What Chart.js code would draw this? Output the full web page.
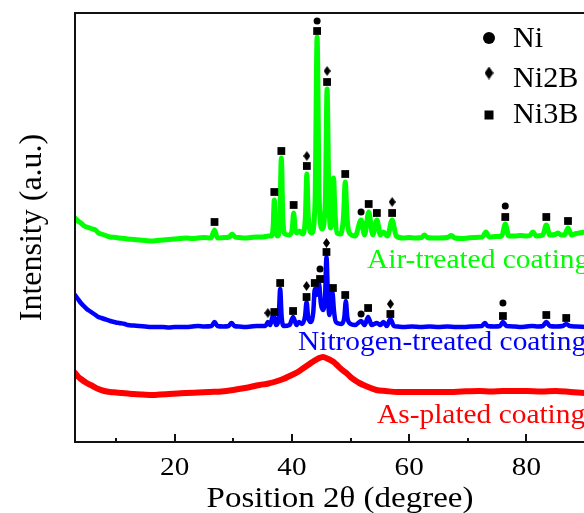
<!DOCTYPE html>
<html>
<head>
<meta charset="utf-8">
<title>XRD patterns</title>
<script src="https://cdn.jsdelivr.net/npm/chart.js@4.4.1/dist/chart.umd.min.js"></script>
<style>
  html, body { margin: 0; padding: 0; background: #fff; overflow: hidden; }
  #wrap { position: relative; width: 600px; height: 513px; }
</style>
</head>
<body>
<div id="wrap"><canvas id="xrd"></canvas></div>
<script>
// ---- axis ----
const xMin = 3, xMax = 90;
const yMin = 0, yMax = 4290;
const majorTicks = [20, 40, 60, 80];
const minorTicks = [10, 30, 50, 70];

// ---- measured patterns, [2θ, intensity] (offset per sample) ----
const airTrace = [
  [3, 2240], [3.5, 2210], [4, 2190], [4.6, 2160], [5, 2150], [5.5, 2140], [6, 2130], [6.5, 2120],
  [7, 2090], [7.5, 2080], [8, 2070], [9, 2050], [10, 2045], [10.5, 2040], [11.5, 2035], [12, 2030],
  [13, 2025], [14, 2020], [15, 2015], [16, 2010], [17, 2015], [18, 2020], [19, 2025], [20, 2030],
  [21, 2035], [22, 2040], [23, 2035], [24, 2040], [25, 2045], [26.2, 2040], [26.8, 2120], [27.3, 2040],
  [28.5, 2045], [29.3, 2050], [29.8, 2080], [30.3, 2050], [31, 2045], [32, 2040], [33, 2045], [34, 2050],
  [35, 2050], [36, 2060], [36.5, 2060], [36.8, 2150], [37, 2420], [37.2, 2150], [37.6, 2060],
  [37.95, 2250], [38.2, 2840], [38.45, 2250], [38.8, 2080], [39.6, 2070], [40.05, 2130], [40.3, 2290],
  [40.55, 2130], [40.8, 2090], [41.3, 2110], [41.8, 2080], [42.3, 2250], [42.55, 2680], [42.8, 2250],
  [43.4, 2090], [43.95, 2400], [44.3, 4050], [44.65, 2450], [45.15, 2130], [45.7, 2400], [46.0, 3530],
  [46.3, 2450], [46.6, 2140], [46.9, 2300], [47.1, 2640], [47.35, 2300], [47.7, 2090], [48.3, 2080],
  [48.8, 2250], [49.1, 2600], [49.4, 2250], [49.8, 2090], [50.8, 2060], [51.8, 2220], [52.4, 2070],
  [53.1, 2300], [53.8, 2070], [54.5, 2220], [55.1, 2070], [55.6, 2100], [56.3, 2060], [57.1, 2220],
  [57.8, 2060], [59, 2040], [60, 2045], [61, 2040], [62.1, 2045], [62.6, 2070], [63.1, 2045],
  [64, 2040], [65, 2040], [66.5, 2045], [67.2, 2065], [67.8, 2040], [69, 2035], [70, 2040], [71, 2045],
  [72.5, 2050], [73.1, 2100], [73.7, 2050], [74.8, 2055], [75.8, 2060], [76.4, 2180], [77, 2060],
  [78, 2060], [79, 2065], [80, 2060], [80.6, 2065], [81.1, 2100], [81.7, 2060], [82.8, 2070],
  [83.4, 2170], [84, 2070], [84.9, 2075], [85.4, 2090], [85.9, 2070], [86.5, 2070], [87.1, 2140],
  [87.7, 2070], [88.5, 2085], [89, 2090], [90, 2100]
];

const nitrogenTrace = [
  [3, 1470], [3.5, 1430], [4, 1390], [4.5, 1360], [5, 1330], [5.5, 1310], [6, 1290], [6.5, 1270],
  [7, 1250], [7.5, 1240], [8, 1230], [9, 1210], [10, 1195], [10.5, 1190], [11.5, 1180], [12, 1170],
  [13, 1165], [14, 1160], [15, 1155], [16, 1150], [17, 1150], [18, 1150], [19, 1145], [20, 1150],
  [21, 1150], [22, 1150], [23, 1155], [24, 1160], [25, 1155], [26.3, 1160], [26.8, 1200], [27.3, 1160],
  [28.3, 1155], [29.2, 1160], [29.7, 1190], [30.2, 1160], [31, 1155], [32, 1150], [33, 1155],
  [34, 1160], [35, 1160], [35.5, 1160], [35.9, 1200], [36.3, 1170], [36.8, 1270], [37.3, 1170],
  [37.75, 1250], [38.0, 1530], [38.25, 1250], [38.6, 1160], [39.6, 1170], [40.2, 1250], [40.8, 1170],
  [41.2, 1200], [41.7, 1180], [42.25, 1260], [42.5, 1400], [42.75, 1260], [43.2, 1200], [43.65, 1300],
  [43.9, 1530], [44.2, 1470], [44.6, 1590], [44.95, 1380], [45.3, 1320], [45.65, 1450], [45.9, 1850],
  [46.15, 1450], [46.4, 1270], [46.9, 1500], [47.2, 1300], [47.5, 1200], [48.5, 1180], [48.95, 1250],
  [49.2, 1410], [49.45, 1250], [49.8, 1190], [50.8, 1170], [51.8, 1210], [52.4, 1170], [53.0, 1250],
  [53.6, 1170], [54.5, 1190], [55.1, 1170], [55.6, 1200], [56.2, 1160], [56.8, 1230], [57.4, 1160],
  [58, 1155], [59, 1150], [60.5, 1155], [62, 1150], [63.5, 1155], [65, 1150], [66.5, 1155], [68, 1150],
  [69.5, 1150], [70.5, 1155], [72.4, 1160], [72.9, 1190], [73.4, 1160], [74.5, 1155], [75.5, 1160],
  [76, 1200], [76.6, 1160], [78, 1155], [79, 1150], [80, 1155], [81, 1160], [82, 1155], [82.8, 1160],
  [83.4, 1200], [84, 1160], [85, 1155], [86.2, 1160], [86.8, 1180], [87.4, 1160], [88.5, 1155],
  [90, 1150]
];

const platedTrace = [
  [3, 690], [3.5, 655], [4, 630], [5, 590], [6, 560], [7, 530], [8, 510], [9, 500], [10, 495],
  [11, 490], [12, 485], [13, 480], [14.5, 475], [16.3, 470], [17.5, 475], [19, 480], [20.5, 485],
  [22, 490], [24, 495], [26, 500], [28, 505], [30, 520], [32, 540], [34.5, 570], [36, 585], [37, 600],
  [38.5, 630], [40, 670], [41, 700], [42, 740], [43, 780], [43.5, 800], [44.5, 835], [45.3, 850],
  [46.2, 830], [47, 805], [47.5, 780], [48.6, 720], [49.3, 690], [50, 650], [50.8, 615], [51.5, 590],
  [52.2, 570], [53, 550], [54.4, 520], [56, 510], [58, 500], [60, 500], [62.9, 500], [65, 500],
  [67, 500], [69, 505], [72, 510], [74, 505], [76, 510], [78, 510], [80, 510], [82.5, 505], [85, 510],
  [87.5, 500], [90, 490]
];

// ---- phase markers, [2θ, height] ----
const niMarks = [
  [44.3, 4210], [51.8, 2300], [76.4, 2360],
  [44.8, 1730], [51.8, 1280], [76.0, 1390]
];
const ni2bMarks = [
  [42.55, 2860], [46.0, 3710], [57.1, 2400],
  [35.9, 1290], [42.5, 1560], [45.9, 1990], [56.8, 1380]
];
const ni3bMarks = [
  [26.8, 2200], [37.0, 2500], [38.2, 2910], [40.3, 2370], [42.55, 2760], [44.3, 4110], [46.0, 3600],
  [49.1, 2680], [53.1, 2380], [54.5, 2290], [57.1, 2290], [76.4, 2250], [83.4, 2250], [87.1, 2210],
  [37.0, 1300], [38.0, 1590], [40.2, 1310], [42.5, 1450], [43.9, 1590], [44.8, 1630], [45.9, 1900],
  [47.0, 1540], [49.1, 1470], [53.0, 1340], [56.8, 1280], [76.0, 1260], [83.4, 1270], [86.8, 1240]
];

const sampleNames = ['Air-treated coating', 'Nitrogen-treated coating', 'As-plated coating'];
const sampleColors = ['#00ff00', '#0000ff', '#ff0000'];
const phaseNames = ['Ni', 'Ni2B', 'Ni3B'];

const serif = '"Liberation Serif", "Times New Roman", serif';
const toXY = arr => arr.map(([x, y]) => ({ x, y }));

function diamond(w, h) {
  const c = document.createElement('canvas');
  c.width = w; c.height = h;
  const g = c.getContext('2d');
  g.fillStyle = '#000';
  g.beginPath();
  g.moveTo(w / 2, 0); g.lineTo(w, h / 2); g.lineTo(w / 2, h); g.lineTo(0, h / 2);
  g.closePath(); g.fill();
  return c;
}
const diamondSmall = diamond(7, 10);
const diamondLegend = diamond(9, 13);

function lineSet(trace, color, width) {
  return {
    type: 'scatter', data: toXY(trace), showLine: true, order: 2,
    borderColor: color, borderWidth: width, pointRadius: 0,
    cubicInterpolationMode: 'monotone', borderJoinStyle: 'round', borderCapStyle: 'round'
  };
}
function markSet(marks, style, radius) {
  return {
    type: 'scatter', data: toXY(marks), showLine: false, order: 1,
    pointStyle: style, pointRadius: radius, backgroundColor: '#000', borderColor: '#000', borderWidth: 0
  };
}

// text is set slightly wide, like the serif type of the figure
function wideText(ctx, text, x, y, size, color, align, sx) {
  ctx.save();
  ctx.translate(x, y);
  ctx.scale(sx, 1);
  ctx.font = `${size}px ${serif}`;
  ctx.fillStyle = color;
  ctx.textAlign = align;
  ctx.textBaseline = 'alphabetic';
  ctx.fillText(text, 0, 0);
  ctx.restore();
}

// frame, inward ticks, tick labels, titles, sample labels and phase key
const decorations = {
  id: 'decorations',
  afterDraw(chart) {
    const { ctx, chartArea: a, scales: { x } } = chart;
    ctx.save();
    ctx.strokeStyle = '#111';
    ctx.lineWidth = 2;
    ctx.beginPath();
    majorTicks.forEach(v => {
      const px = Math.round(x.getPixelForValue(v));
      ctx.moveTo(px, a.bottom); ctx.lineTo(px, a.bottom - 8);
    });
    minorTicks.forEach(v => {
      const px = Math.round(x.getPixelForValue(v));
      ctx.moveTo(px, a.bottom); ctx.lineTo(px, a.bottom - 4);
    });
    ctx.stroke();
    ctx.strokeRect(a.left, a.top, a.right - a.left, a.bottom - a.top);

    majorTicks.forEach(v => {
      wideText(ctx, String(v), x.getPixelForValue(v), 475, 26, '#000', 'center', 1.12);
    });
    wideText(ctx, 'Position 2θ (degree)', 340, 507, 30, '#000', 'center', 1.1);

    ctx.save();
    ctx.translate(41, (a.top + a.bottom) / 2);
    ctx.rotate(-Math.PI / 2);
    ctx.font = `32px ${serif}`;
    ctx.fillStyle = '#000';
    ctx.textAlign = 'center';
    ctx.fillText('Intensity (a.u.)', 0, 0);
    ctx.restore();

    const labelPos = [[367, 268], [298, 350], [377, 423]];
    sampleNames.forEach((name, i) => {
      wideText(ctx, name, labelPos[i][0], labelPos[i][1], 28, sampleColors[i], 'left', 1.05);
    });

    // phase key
    ctx.fillStyle = '#000';
    ctx.beginPath();
    ctx.arc(489, 38, 6, 0, Math.PI * 2);
    ctx.fill();
    ctx.drawImage(diamondLegend, 489 - 4.5, 73 - 6.5);
    ctx.fillRect(484.5, 110.5, 9, 9);
    wideText(ctx, phaseNames[0], 513, 47, 29, '#000', 'left', 1.04);
    wideText(ctx, phaseNames[1], 513, 87, 29, '#000', 'left', 1.04);
    wideText(ctx, phaseNames[2], 513, 123, 29, '#000', 'left', 1.04);
    ctx.restore();
  }
};

new Chart(document.getElementById('xrd'), {
  type: 'scatter',
  data: {
    datasets: [
      lineSet(airTrace, sampleColors[0], 5),
      lineSet(nitrogenTrace, sampleColors[1], 4.5),
      lineSet(platedTrace, sampleColors[2], 6),
      markSet(niMarks, 'circle', 3.5),
      markSet(ni2bMarks, diamondSmall, 5),
      markSet(ni3bMarks, 'rect', 5.5)
    ]
  },
  options: {
    responsive: true,
    maintainAspectRatio: false,
    animation: false,
    layout: { padding: { left: 75, right: 15, top: 13, bottom: 0 } },
    plugins: { legend: { display: false }, tooltip: { enabled: false } },
    scales: {
      x: {
        type: 'linear', min: xMin, max: xMax,
        grid: { display: false, drawTicks: false },
        border: { display: false },
        afterBuildTicks: s => { s.ticks = majorTicks.map(v => ({ value: v })); },
        afterFit: s => { s.height = 71; },
        ticks: { display: false }
      },
      y: { type: 'linear', min: yMin, max: yMax, display: false }
    }
  },
  plugins: [decorations]
});
</script>
</body>
</html>
